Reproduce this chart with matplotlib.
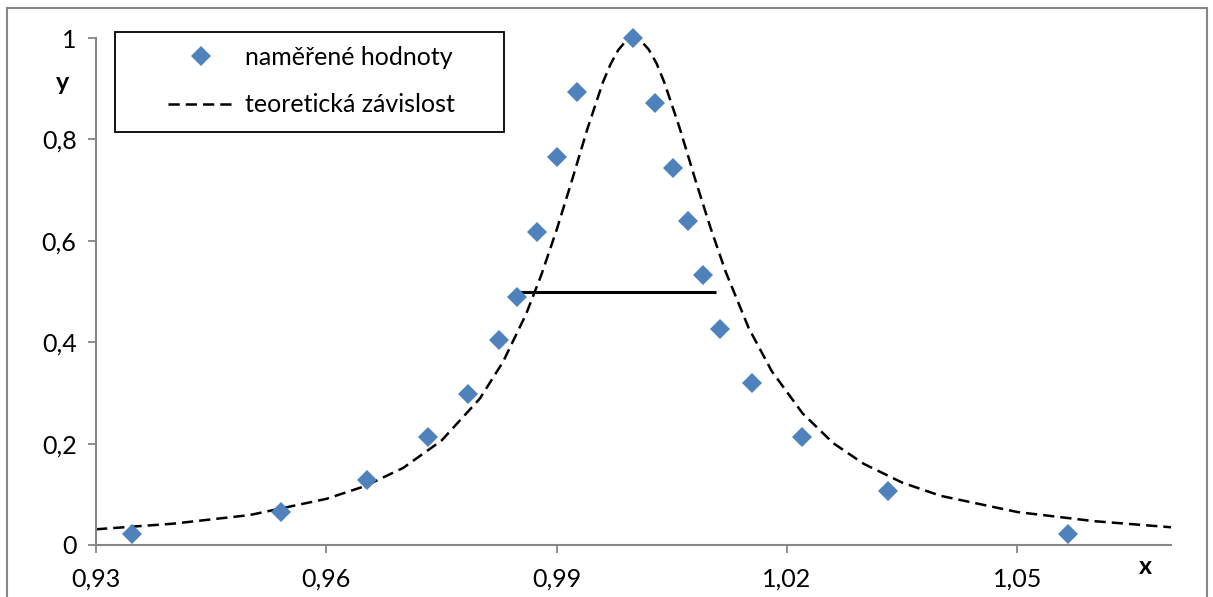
import matplotlib.pyplot as plt
from matplotlib.patches import Rectangle

# measured points
x_meas = [0.9347, 0.9541, 0.9653, 0.9732, 0.9785, 0.9825, 0.9848, 0.9874, 0.9900, 0.9926,
          0.9999, 1.0028, 1.0051, 1.0071, 1.0091, 1.0113, 1.0154, 1.0219, 1.0332, 1.0566]
y_meas = [0.022, 0.065, 0.128, 0.213, 0.298, 0.404, 0.489, 0.617, 0.765, 0.893,
          1.000, 0.872, 0.744, 0.639, 0.533, 0.426, 0.320, 0.213, 0.107, 0.022]

# theoretical curve
x_theo = [0.930, 0.940, 0.950, 0.960, 0.965, 0.970, 0.975, 0.980, 0.983, 0.986, 0.988,
          0.990, 0.992, 0.994, 0.996, 0.997, 0.998, 0.999, 1.000, 1.001, 1.002, 1.003,
          1.004, 1.006, 1.008, 1.010, 1.012, 1.015, 1.018, 1.022, 1.026, 1.030, 1.035,
          1.040, 1.050, 1.060, 1.070]
y_theo = [0.031, 0.042, 0.059, 0.091, 0.116, 0.152, 0.206, 0.289, 0.361, 0.455, 0.533,
          0.622, 0.720, 0.821, 0.912, 0.948, 0.976, 0.994, 1.000, 0.994, 0.977, 0.950,
          0.913, 0.823, 0.723, 0.627, 0.539, 0.428, 0.343, 0.260, 0.201, 0.160, 0.123,
          0.097, 0.065, 0.047, 0.035]

# half-maximum line
x_half = [0.9848, 1.0108]
y_half = [0.5, 0.5]

x_ticks = [0.93, 0.96, 0.99, 1.02, 1.05]
x_labels = ['0,93', '0,96', '0,99', '1,02', '1,05']
y_ticks = [0, 0.2, 0.4, 0.6, 0.8, 1]
y_labels = ['0', '0,2', '0,4', '0,6', '0,8', '1']

plt.rcParams['font.family'] = ['Lato', 'DejaVu Sans']
FS = 18

W, H = 1213, 597
fig = plt.figure(figsize=(W / 100, H / 100), dpi=100)
ax = fig.add_axes([96 / W, 1 - 545 / H, (1171 - 96) / W, (545 - 38) / H])

ax.plot(x_theo, y_theo, color='black', lw=1.8, dashes=(4.5, 2.4),
        label='teoretická závislost', zorder=2)
ax.plot(x_half, y_half, color='black', lw=2.2, solid_capstyle='butt', zorder=2)
ax.plot(x_meas, y_meas, ls='none', marker='D', ms=10, color='#4F81BD',
        markeredgewidth=0, label='naměřené hodnoty', zorder=3, clip_on=False)

ax.set_xlim(0.93, 1.07)
ax.set_ylim(0, 1)
ax.set_xticks(x_ticks)
ax.set_xticklabels(x_labels)
ax.set_yticks(y_ticks)
ax.set_yticklabels(y_labels)
ax.tick_params(direction='out', length=6, width=1.3, color='#868686',
               labelsize=FS, pad=8)
ax.tick_params(axis='x', pad=10)
for s in ['top', 'right']:
    ax.spines[s].set_visible(False)
for s in ['left', 'bottom']:
    ax.spines[s].set_color('#868686')
    ax.spines[s].set_linewidth(1.5)

# legend without its own frame, box drawn separately
h, l = ax.get_legend_handles_labels()
leg = fig.legend([h[1], h[0]], [l[1], l[0]], loc='upper left',
                 bbox_to_anchor=(168 / W, 1 - 46 / H), frameon=False,
                 fontsize=FS, borderpad=0, borderaxespad=0,
                 labelspacing=0.98, handlelength=2.6, handletextpad=0.48)
fig.patches.append(Rectangle((115 / W, 1 - 132 / H), (504 - 115) / W, (132 - 32) / H,
                             transform=fig.transFigure, fill=True, facecolor='white',
                             edgecolor='black', lw=1.3, zorder=4))
leg.set_zorder(5)

fig.text(63 / W, 1 - 82 / H, 'y', fontsize=FS, fontweight='bold', ha='center', va='center')
fig.text(1145 / W, 1 - 567 / H, 'x', fontsize=FS, fontweight='bold', ha='center', va='center')

fig.patches.append(Rectangle((7 / W, -0.1), (1207 - 7) / W, 1.1 - 8 / H,
                             transform=fig.transFigure, fill=False,
                             edgecolor='#868686', lw=1.5))

fig.savefig('out.png', dpi=100)
